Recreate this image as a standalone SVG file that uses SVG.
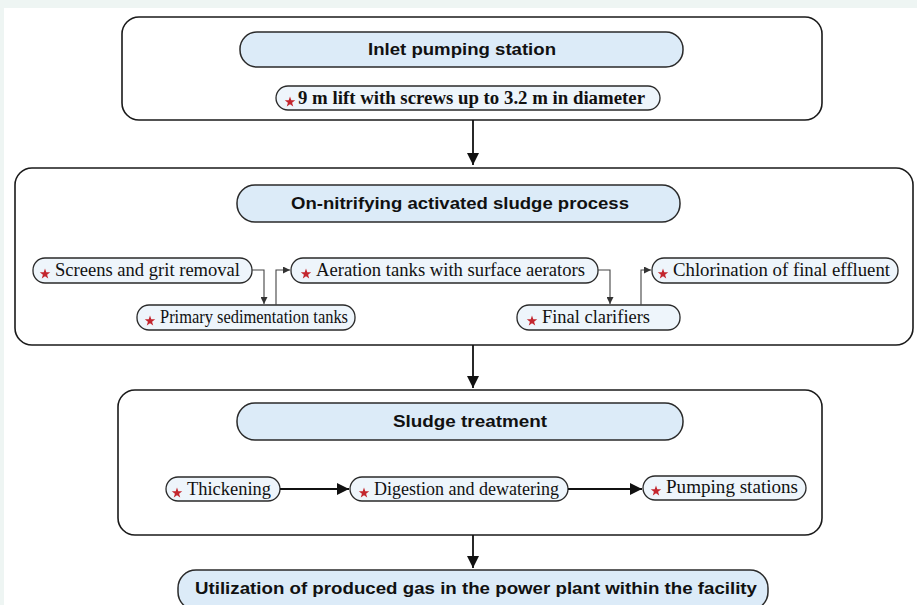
<svg xmlns="http://www.w3.org/2000/svg" width="917" height="605" viewBox="0 0 917 605">
<defs>
<style>
.frame{fill:#fff;stroke:#1a1a1a;stroke-width:1.6}
.head{fill:#dcebf8;stroke:#2a2a2a;stroke-width:1.5}
.pill{fill:#eef5fb;stroke:#2a2a2a;stroke-width:1.3}
.ht{font-family:"Liberation Sans",Arial,sans-serif;font-weight:bold;font-size:17px;fill:#111;text-anchor:middle}
.st{font-family:"Liberation Serif","Times New Roman",serif;font-size:18px;fill:#111}
.stb{font-family:"Liberation Serif","Times New Roman",serif;font-size:18px;font-weight:bold;fill:#111}
.big{fill:none;stroke:#111;stroke-width:1.8}
.small{fill:none;stroke:#444;stroke-width:1.1}
.star{fill:#c3262e}
</style>
<path id="star" d="M0,-5.5 L1.29,-1.78 L5.23,-1.70 L2.09,0.68 L3.23,4.45 L0,2.2 L-3.23,4.45 L-2.09,0.68 L-5.23,-1.70 L-1.29,-1.78 Z"/>
<marker id="ab" markerWidth="12" markerHeight="12" refX="10" refY="5" orient="auto" markerUnits="userSpaceOnUse" viewBox="0 0 10 10">
<path d="M0,0 L10,5 L0,10 Z" fill="#111"/>
</marker>
<marker id="as" markerWidth="7" markerHeight="7" refX="10" refY="5" orient="auto" markerUnits="userSpaceOnUse" viewBox="0 0 10 10">
<path d="M0,0 L10,5 L0,10 Z" fill="#333"/>
</marker>
</defs>
<rect x="0" y="0" width="917" height="605" fill="#eef5f3"/>
<rect x="4" y="8" width="913" height="597" fill="#ffffff"/>

<g id="inlet">
<rect class="frame" x="122" y="17" width="700" height="103" rx="17"/>
<rect class="head" x="240" y="32" width="443" height="35" rx="17"/>
<text class="ht" x="462" y="55" textLength="188" lengthAdjust="spacingAndGlyphs">Inlet pumping station</text>
<rect class="pill" x="276" y="86" width="384" height="24" rx="12"/>
<use href="#star" class="star" x="290" y="102"/>
<text class="stb" x="298" y="104" textLength="347" lengthAdjust="spacingAndGlyphs">9 m lift with screws up to 3.2 m in diameter</text>
</g>

<g id="activated">
<rect class="frame" x="15" y="168" width="898" height="177" rx="17"/>
<rect class="head" x="237" y="185" width="443" height="37" rx="18"/>
<text class="ht" x="460" y="209" textLength="338" lengthAdjust="spacingAndGlyphs">On-nitrifying activated sludge process</text>
</g>

<g id="screens">
<rect class="pill" x="33" y="258" width="219" height="25" rx="12"/>
<use href="#star" class="star" x="45" y="274"/>
<text class="st" x="55" y="276" textLength="185" lengthAdjust="spacingAndGlyphs">Screens and grit removal</text>
</g>
<g id="aeration">
<rect class="pill" x="291" y="258" width="307" height="25" rx="12"/>
<use href="#star" class="star" x="306" y="274"/>
<text class="st" x="316" y="276" textLength="269" lengthAdjust="spacingAndGlyphs">Aeration tanks with surface aerators</text>
</g>
<g id="chlorination">
<rect class="pill" x="652" y="258" width="246" height="25" rx="12"/>
<use href="#star" class="star" x="663" y="274"/>
<text class="st" x="673" y="276" textLength="217" lengthAdjust="spacingAndGlyphs">Chlorination of final effluent</text>
</g>
<g id="primary">
<rect class="pill" x="137" y="305" width="218" height="25" rx="12"/>
<use href="#star" class="star" x="150" y="321"/>
<text class="st" x="160" y="323" textLength="188" lengthAdjust="spacingAndGlyphs">Primary sedimentation tanks</text>
</g>
<g id="clarifiers">
<rect class="pill" x="517" y="305" width="163" height="25" rx="12"/>
<use href="#star" class="star" x="532" y="321"/>
<text class="st" x="542" y="323" textLength="108" lengthAdjust="spacingAndGlyphs">Final clarifiers</text>
</g>

<g id="sludge">
<rect class="frame" x="118" y="390" width="704" height="145" rx="17"/>
<rect class="head" x="237" y="403" width="446" height="37" rx="18"/>
<text class="ht" x="470" y="427" textLength="154" lengthAdjust="spacingAndGlyphs">Sludge treatment</text>
</g>
<g id="thickening">
<rect class="pill" x="166" y="477" width="114" height="24" rx="12"/>
<use href="#star" class="star" x="177" y="493"/>
<text class="st" x="187" y="495" textLength="84" lengthAdjust="spacingAndGlyphs">Thickening</text>
</g>
<g id="digestion">
<rect class="pill" x="350" y="477" width="218" height="24" rx="12"/>
<use href="#star" class="star" x="364" y="493"/>
<text class="st" x="374" y="495" textLength="185" lengthAdjust="spacingAndGlyphs">Digestion and dewatering</text>
</g>
<g id="pumping">
<rect class="pill" x="643" y="476" width="163" height="24" rx="12"/>
<use href="#star" class="star" x="656" y="491"/>
<text class="st" x="666" y="493" textLength="132" lengthAdjust="spacingAndGlyphs">Pumping stations</text>
</g>

<g id="utilization">
<rect class="head" x="178" y="570" width="590" height="40" rx="18"/>
<text class="ht" x="476" y="594" textLength="562" lengthAdjust="spacingAndGlyphs">Utilization of produced gas in the power plant within the facility</text>
</g>

<g id="connectors">
<path class="big" d="M473,120 V165" marker-end="url(#ab)"/>
<path class="big" d="M473,345 V388" marker-end="url(#ab)"/>
<path class="big" d="M473,535 V568" marker-end="url(#ab)"/>
<path class="small" d="M252,270 H264 V304" marker-end="url(#as)"/>
<path class="small" d="M276,305 V270 H290" marker-end="url(#as)"/>
<path class="small" d="M598,270 H610 V304" marker-end="url(#as)"/>
<path class="small" d="M641,305 V270 H651" marker-end="url(#as)"/>
<path class="big" d="M280,489 H349" marker-end="url(#ab)"/>
<path class="big" d="M568,489 H642" marker-end="url(#ab)"/>
</g>
</svg>
